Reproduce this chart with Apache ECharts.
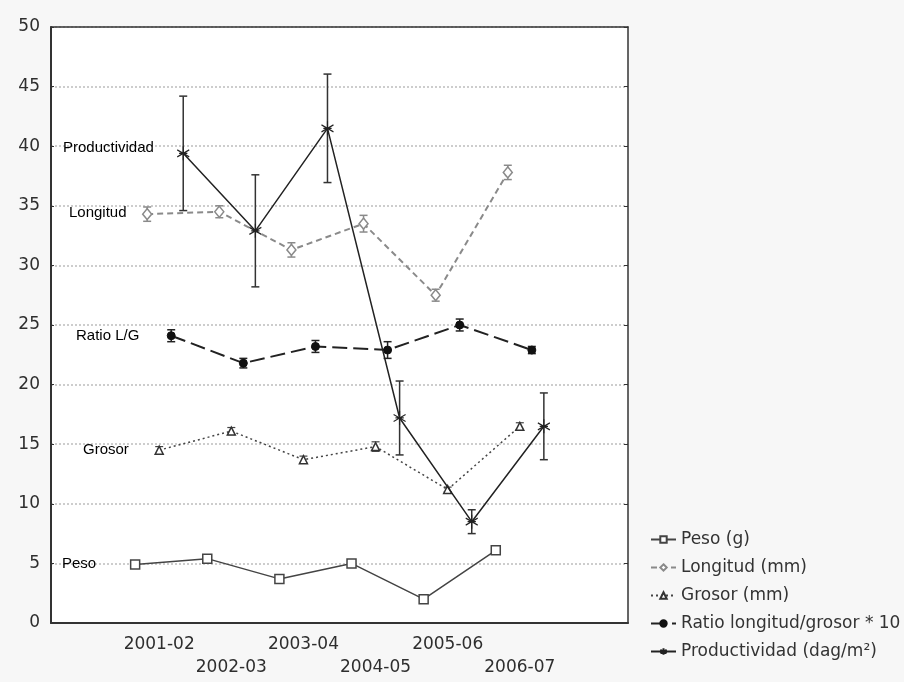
<!DOCTYPE html>
<html>
<head>
<meta charset="utf-8">
<script src="https://cdn.jsdelivr.net/npm/echarts@6/dist/echarts.min.js"></script>
<style>
html,body{margin:0;padding:0;background:#f7f7f7;}
#chart{width:904px;height:682px;}
</style>
</head>
<body>
<div id="chart"></div>
<script>
// ---- data ----
const categories = ['', '2001-02', '2002-03', '2003-04', '2004-05', '2005-06', '2006-07', ''];
const seasonIndex = [1, 2, 3, 4, 5, 6];
const yTicks = { min: 0, max: 50, interval: 5 };

const seriesNames = ['Peso (g)', 'Longitud (mm)', 'Grosor (mm)', 'Ratio longitud/grosor * 10', 'Productividad (dag/m\u00B2)'];
const dodge = [-1/3, -1/6, 0, 1/6, 1/3];

const peso = [4.9, 5.4, 3.7, 5.0, 2.0, 6.1];
const longitud = [34.3, 34.5, 31.3, 33.5, 27.5, 37.8];
const longitudErr = [0.6, 0.5, 0.6, 0.7, 0.5, 0.6];
const grosor = [14.5, 16.1, 13.7, 14.8, 11.2, 16.5];
const grosorErr = [0.3, 0.3, 0.3, 0.4, 0.2, 0.3];
const ratio = [24.1, 21.8, 23.2, 22.9, 25.0, 22.9];
const ratioErr = [0.5, 0.4, 0.5, 0.7, 0.5, 0.3];
const productividad = [39.4, 32.9, 41.5, 17.2, 8.5, 16.5];
const productividadErr = [4.8, 4.7, 4.55, 3.1, 1.0, 2.8];

const annotations = [
  { text: 'Productividad', left: 63, y: 148 },
  { text: 'Longitud', left: 69, y: 213 },
  { text: 'Ratio L/G', left: 76, y: 336 },
  { text: 'Grosor', left: 83, y: 450 },
  { text: 'Peso', left: 62, y: 564 }
];

// ---- build ----
function pts(vals, k) { return vals.map((v, i) => [seasonIndex[i] + dodge[k], v]); }
function errs(vals, e, k) { return vals.map((v, i) => [seasonIndex[i] + dodge[k], v - e[i], v + e[i]]); }

function errorSeries(data, color, width) {
  return {
    type: 'custom', xAxisIndex: 2, yAxisIndex: 0, z: 3, silent: true,
    data: data,
    renderItem: function (params, api) {
      const x = api.value(0);
      const lo = api.coord([x, api.value(1)]);
      const hi = api.coord([x, api.value(2)]);
      const cap = 4;
      const st = { stroke: color, lineWidth: width };
      return {
        type: 'group', children: [
          { type: 'line', shape: { x1: lo[0], y1: lo[1], x2: hi[0], y2: hi[1] }, style: st },
          { type: 'line', shape: { x1: lo[0] - cap, y1: lo[1], x2: lo[0] + cap, y2: lo[1] }, style: st },
          { type: 'line', shape: { x1: hi[0] - cap, y1: hi[1], x2: hi[0] + cap, y2: hi[1] }, style: st }
        ]
      };
    }
  };
}

const asterisk = 'path://M10,0 L10,20 M1.34,5 L18.66,15 M1.34,15 L18.66,5 M4,10 L16,10';

const labelFont = 'DejaVu Sans';
const chart = echarts.init(document.getElementById('chart'), null, { renderer: 'canvas' });

const option = {
  backgroundColor: '#f7f7f7',
  animation: false,
  grid: { left: 51, top: 27, width: 577, height: 596, show: true, backgroundColor: '#ffffff', borderWidth: 0 },
  legend: {
    orient: 'vertical', left: 645, top: 526,
    itemWidth: 25, itemHeight: 8, itemGap: 11,
    data: seriesNames,
    textStyle: { fontFamily: labelFont, fontSize: 17, color: '#333', lineHeight: 17 }
  },
  xAxis: [
    {
      type: 'category', position: 'bottom', data: categories, boundaryGap: true,
      axisLine: { onZero: false, lineStyle: { color: '#333', width: 2 } },
      axisTick: { alignWithLabel: true, inside: true, length: 4, lineStyle: { color: '#333', width: 1.5 } },
      axisLabel: {
        interval: 0, margin: 10, color: '#2e2e2e', fontFamily: labelFont, fontSize: 17, lineHeight: 23,
        formatter: (v, i) => (i % 2 === 0 ? '\n' + v : v)
      },
      splitLine: { show: false }
    },
    {
      type: 'category', position: 'top', data: categories, boundaryGap: true,
      axisLine: { onZero: false, lineStyle: { color: '#333', width: 1.5 } },
      axisTick: { alignWithLabel: true, inside: true, length: 4, lineStyle: { color: '#333', width: 1.5 } },
      axisLabel: { show: false }, splitLine: { show: false }
    },
    {
      type: 'value', min: -0.5, max: 7.5, show: false, splitLine: { show: false },
      axisLine: { onZero: false }
    }
  ],
  yAxis: [
    {
      type: 'value', position: 'left', min: yTicks.min, max: yTicks.max, interval: yTicks.interval,
      axisLine: { show: true, onZero: false, lineStyle: { color: '#333', width: 2 } },
      axisTick: { show: true, inside: true, length: 3, lineStyle: { color: '#333' } },
      axisLabel: { margin: 11, color: '#2e2e2e', fontFamily: labelFont, fontSize: 17 },
      splitLine: { show: true, lineStyle: { color: '#bdbdbd', type: [2, 2], width: 1.5 } }
    },
    {
      type: 'value', position: 'right', min: yTicks.min, max: yTicks.max, interval: yTicks.interval,
      axisLine: { show: true, onZero: false, lineStyle: { color: '#333', width: 1.5 } },
      axisTick: { show: true, inside: true, length: 4, lineStyle: { color: '#333' } },
      axisLabel: { show: false }, splitLine: { show: false }
    }
  ],
  graphic: annotations.map(a => ({
    type: 'text', left: a.left, top: a.y - 8, z: 10,
    style: { text: a.text, fill: '#000', font: '15px "Liberation Sans", Arial, sans-serif' }
  })),
  series: [
    errorSeries(errs(longitud, longitudErr, 1), '#8a8a8a', 1.5),
    errorSeries(errs(grosor, grosorErr, 2), '#444', 1.2),
    errorSeries(errs(ratio, ratioErr, 3), '#222', 1.5),
    errorSeries(errs(productividad, productividadErr, 4), '#333', 1.5),
    {
      name: seriesNames[0], type: 'line', xAxisIndex: 2, yAxisIndex: 0, z: 4,
      data: pts(peso, 0), symbol: 'rect', symbolSize: 9,
      lineStyle: { color: '#444', width: 1.5 },
      itemStyle: { color: '#fff', borderColor: '#444', borderWidth: 1.5 }
    },
    {
      name: seriesNames[1], type: 'line', xAxisIndex: 2, yAxisIndex: 0, z: 4,
      data: pts(longitud, 1), symbol: 'diamond', symbolSize: [9, 11],
      lineStyle: { color: '#8a8a8a', width: 2, type: [6, 4] },
      itemStyle: { color: '#fff', borderColor: '#8a8a8a', borderWidth: 1.5 }
    },
    {
      name: seriesNames[2], type: 'line', xAxisIndex: 2, yAxisIndex: 0, z: 4,
      data: pts(grosor, 2), symbol: 'triangle', symbolSize: 8,
      lineStyle: { color: '#444', width: 1.5, type: [2, 3] },
      itemStyle: { color: '#fff', borderColor: '#333', borderWidth: 1.5 }
    },
    {
      name: seriesNames[3], type: 'line', xAxisIndex: 2, yAxisIndex: 0, z: 4,
      data: pts(ratio, 3), symbol: 'circle', symbolSize: 8,
      lineStyle: { color: '#222', width: 2, type: [15, 6] },
      itemStyle: { color: '#111', borderColor: '#111', borderWidth: 1 }
    },
    {
      name: seriesNames[4], type: 'line', xAxisIndex: 2, yAxisIndex: 0, z: 5,
      data: pts(productividad, 4), symbol: asterisk, symbolSize: [12, 14],
      lineStyle: { color: '#222', width: 1.5 },
      itemStyle: { color: 'transparent', borderColor: '#222', borderWidth: 1.2 }
    }
  ]
};
chart.setOption(option);
</script>
</body>
</html>
